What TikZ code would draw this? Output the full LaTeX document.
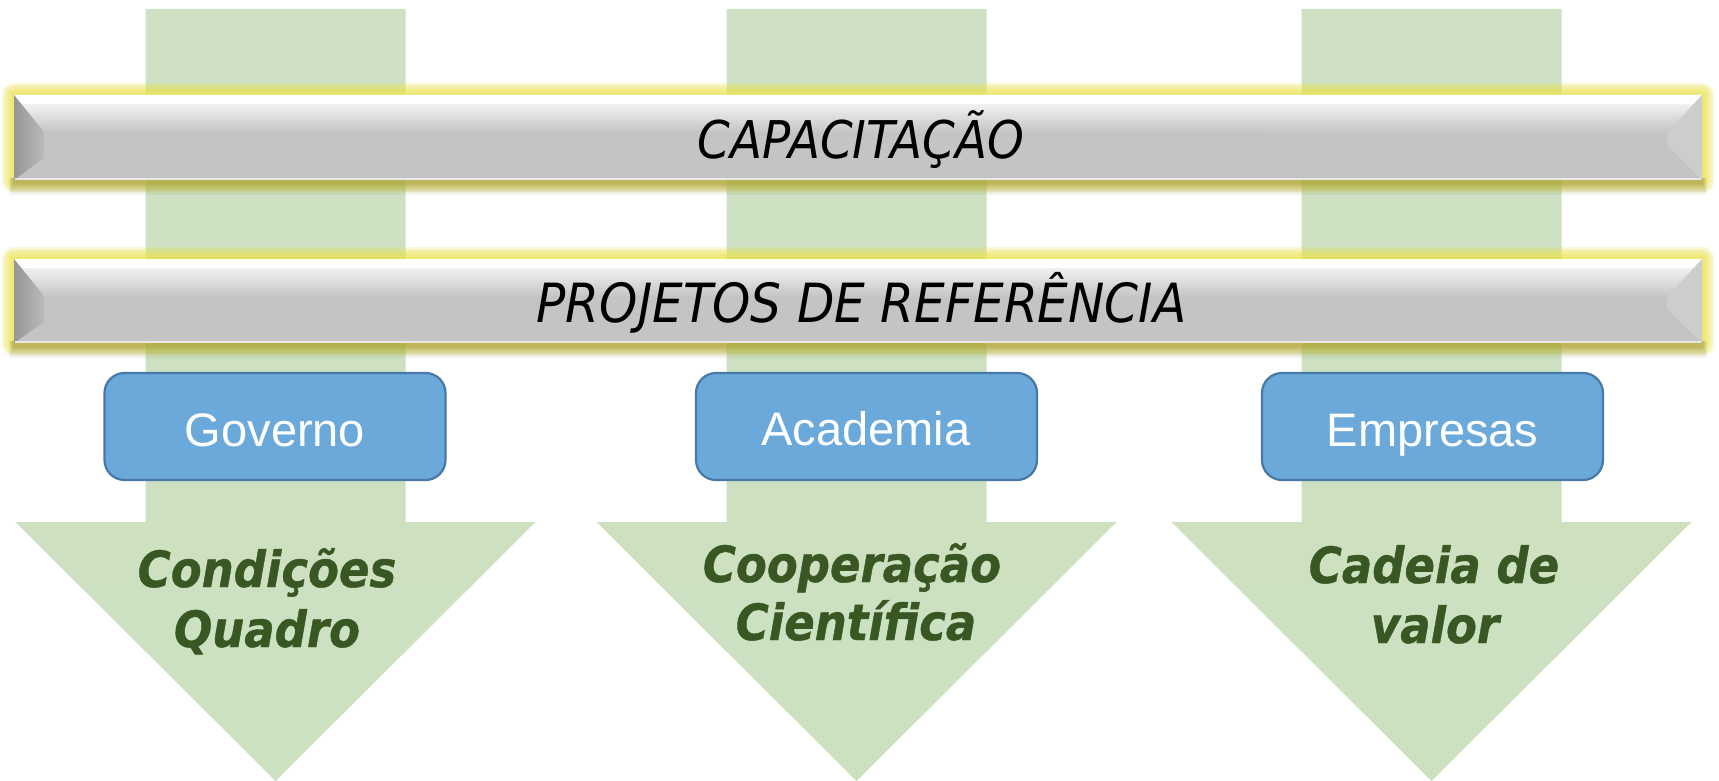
\documentclass[tikz,border=0pt]{standalone}
\usepackage{fontspec}
\newfontfamily\barfont{DejaVu Sans}[FakeStretch=0.9]
\newfontfamily\greenfont{DejaVu Sans}[FakeStretch=0.9, BoldItalicFeatures={FakeBold=0.8}]
\newfontfamily\boxfont{Liberation Sans}
\definecolor{grtop}{RGB}{206,225,196}
\definecolor{grmid}{RGB}{190,215,170}
\definecolor{grbot}{RGB}{204,225,192}
\definecolor{barbody}{RGB}{196,196,196}
\definecolor{barleftA}{RGB}{150,150,150}
\definecolor{barleftB}{RGB}{186,186,186}
\definecolor{barright}{RGB}{205,205,205}
\definecolor{glowc}{RGB}{236,226,70}
\definecolor{boxfill}{RGB}{108,169,219}
\definecolor{boxedge}{RGB}{72,120,166}
\definecolor{txtgreen}{RGB}{56,87,35}
\newcommand\bevelbar[3]{% #1 top y, #2 bottom y, #3 name
  \foreach \g in {12,10,8,6,4,2} {\fill[glowc, opacity=0.21, rounded corners=\g pt] (14-\g, #1-\g) rectangle (1702+\g, #2+\g+1);}
  \foreach \k in {1,...,5} {\fill[black, opacity=0.045] (14-\k, #2-2) rectangle (1702+\k, #2+2+\k*2.5);}
  \fill[barbody] (14,#1) rectangle (1702,#2);
  \shade[top color=white, middle color=white!55!barbody, bottom color=barbody] (14,#1) -- (1702,#1) -- (1667,#1+38) -- (44,#1+37) -- cycle;
  \fill[white] (14,#1) -- (1702,#1) -- (1694,#1+9) -- (22,#1+9) -- cycle;
  \shade[left color=barleftA, right color=barleftB] (14,#1) -- (44,#1+37) -- (44,#1+63) -- (14,#2) -- cycle;
  \fill[barright] (1702,#1) -- (1667,#1+38) -- (1667,#1+50) -- (1702,#2) -- cycle;
  \draw[white!60!barbody, line width=1.5pt] (15,#2-1) -- (1701,#2-1);
  \coordinate (#3) at (858,{(#1+#2)/2});
}
\begin{document}
\begin{tikzpicture}[x=1pt,y=-1pt,
  bluebox/.style={draw=boxedge, fill=boxfill, line width=2.2pt, rounded corners=20pt, minimum width=341pt, minimum height=107pt, inner sep=0pt},
  boxtext/.style={text=white, font=\boxfont\fontsize{47}{56}\selectfont, inner sep=0pt, anchor=base},
  bartext/.style={text=black, inner sep=0pt, anchor=base},
  greentext/.style={text=txtgreen, font=\greenfont\bfseries\itshape\fontsize{50}{60}\selectfont, inner sep=0pt, anchor=base},
]
\useasboundingbox (0,0) rectangle (1719,781);
\fill[white] (0,0) rectangle (1719,781);
% arrows
\foreach \c in {275.5,856.5,1431.5} {
  \shade[top color=grtop, middle color=grmid, bottom color=grbot]
    (\c-130,9) -- (\c+130,9) -- (\c+130,522) -- (\c+260,522) -- (\c,781) -- (\c-260,522) -- (\c-130,522) -- cycle;
}
% bars
\bevelbar{95}{180}{bar1}
\node[bartext, font=\barfont\itshape\fontsize{52}{60}\selectfont] (cap) at (861,158) {CAPACITAÇÃO};
\bevelbar{259}{343}{bar2}
\node[bartext, font=\barfont\itshape\fontsize{54}{60}\selectfont] (proj) at (861.5,322) {PROJETOS DE REFERÊNCIA};
% blue boxes
\node[bluebox] (gov) at (275,426.5) {};
\node[bluebox] (acad) at (866.5,426.5) {};
\node[bluebox] (emp) at (1432.5,426.5) {};
\node[boxtext] (govt) at (275,446) {Governo};
\node[boxtext] (acadt) at (866,445) {Academia};
\node[boxtext] (empt) at (1432.5,446) {Empresas};
% green labels
\node[greentext] (g1a) at (267,587) {Condições};
\node[greentext] (g1b) at (267,647) {Quadro};
\node[greentext] (g2a) at (852,582) {Cooperação};
\node[greentext] (g2b) at (856,640) {Científica};
\node[greentext] (g3a) at (1434,583) {Cadeia de};
\node[greentext] (g3b) at (1435,643) {valor};
\end{tikzpicture}
\end{document}
